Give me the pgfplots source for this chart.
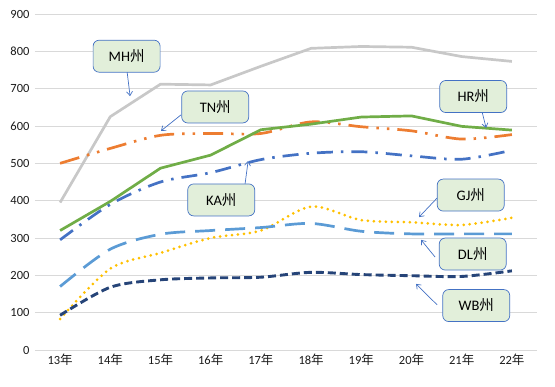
\documentclass[border=0pt]{standalone}
\usepackage{fontspec}
\setmainfont{Carlito}
\newfontfamily\cjk{Noto Sans CJK SC}
\usepackage{pgfplots}
\pgfplotsset{compat=1.18}
\usetikzlibrary{arrows.meta}
\definecolor{gridc}{HTML}{D9D9D9}
\definecolor{tickc}{HTML}{1A1A1A}
\definecolor{cMH}{HTML}{C8C8C8}
\definecolor{cTN}{HTML}{ED7D31}
\definecolor{cHR}{HTML}{70AD47}
\definecolor{cKA}{HTML}{4472C4}
\definecolor{cGJ}{HTML}{FFC000}
\definecolor{cDL}{HTML}{5B9BD5}
\definecolor{cWB}{HTML}{264478}
\definecolor{boxfill}{HTML}{E2EFDA}
\tikzset{
  callout/.style={draw=cKA, line width=0.7pt, fill=boxfill, rounded corners=6pt,
     minimum width=67pt, minimum height=32pt, font=\fontsize{14.5}{16}\selectfont, text=black},
  arr/.style={draw=cKA, line width=0.7pt, -{Straight Barb[length=4pt,width=6pt]}},
}
\begin{document}
\begin{tikzpicture}
\useasboundingbox (-35pt,-37pt) rectangle (520pt,350pt);
\begin{axis}[
  at={(0,0)}, anchor=south west,
  scale only axis, width=502pt, height=336pt,
  xmin=-0.5, xmax=9.5, ymin=0, ymax=900,
  ytick={0,100,...,900},
  xtick={0,...,9},
  xticklabels={13{\cjk 年},14{\cjk 年},15{\cjk 年},16{\cjk 年},17{\cjk 年},18{\cjk 年},19{\cjk 年},20{\cjk 年},21{\cjk 年},22{\cjk 年}},
  ymajorgrids,
  grid style={draw=gridc, line width=0.8pt},
  axis line style={draw=none},
  tick style={draw=none},
  tick label style={font=\fontsize{12.5}{14}\selectfont, text=tickc},
  yticklabel style={xshift=-2pt},
  /pgf/number format/assume math mode=true,
  clip=false,
  every axis plot/.append style={line width=2.7pt, no markers},
]
% MH
\addplot[cMH] coordinates {(0,395) (1,625) (2,712) (3,710) (4,760) (5,808) (6,813) (7,811) (8,786) (9,773)};
% TN
\addplot[cTN, smooth, dash pattern=on 20pt off 8pt on 2.5pt off 8pt on 2.5pt off 8pt] coordinates {(0,500) (1,540) (2,575) (3,580) (4,580) (5,611) (6,598) (7,587) (8,565) (9,577)};
% HR
\addplot[cHR] coordinates {(0,320) (1,398) (2,487) (3,522) (4,590) (5,605) (6,624) (7,627) (8,599) (9,589)};
% KA
\addplot[cKA, smooth, dash pattern=on 16pt off 8pt on 2.5pt off 8pt] coordinates {(0,295) (1,390) (2,450) (3,475) (4,510) (5,527) (6,531) (7,520) (8,511) (9,535)};
% GJ
\addplot[cGJ, smooth, line cap=round, line width=3pt, dash pattern=on 0pt off 6pt] coordinates {(0,83) (1,218) (2,260) (3,300) (4,320) (5,384) (6,348) (7,342) (8,335) (9,354)};
% DL
\addplot[cDL, smooth, dash pattern=on 20pt off 10pt] coordinates {(0,170) (1,270) (2,310) (3,320) (4,328) (5,339) (6,318) (7,311) (8,311) (9,311)};
% WB
\addplot[cWB, smooth, line width=2.9pt, dash pattern=on 8pt off 4pt] coordinates {(0,93) (1,168) (2,188) (3,193) (4,195) (5,208) (6,202) (7,199) (8,197) (9,212)};

% callouts
\draw[arr] (axis cs:1.335,745) -- (axis cs:1.394,680);
\node[callout] at (axis cs:1.325,787) {MH{\cjk 州}};
\draw[arr] (axis cs:2.41,630) -- (axis cs:2.01,587);
\node[callout] at (axis cs:3.09,651) {TN{\cjk 州}};
\draw[arr] (axis cs:3.685,445) -- (axis cs:3.745,506);
\node[callout] at (axis cs:3.21,402) {KA{\cjk 州}};
\draw[arr] (axis cs:8.406,638) -- (axis cs:8.486,595);
\node[callout] at (axis cs:8.23,679) {HR{\cjk 州}};
\draw[arr] (axis cs:7.51,407) -- (axis cs:7.15,356);
\node[callout] at (axis cs:8.18,415) {GJ{\cjk 州}};
\draw[arr] (axis cs:7.47,249) -- (axis cs:7.19,295);
\node[callout] at (axis cs:8.22,257) {DL{\cjk 州}};
\draw[arr] (axis cs:7.51,121) -- (axis cs:7.09,177);
\node[callout] at (axis cs:8.29,119) {WB{\cjk 州}};
\end{axis}
\end{tikzpicture}
\end{document}
